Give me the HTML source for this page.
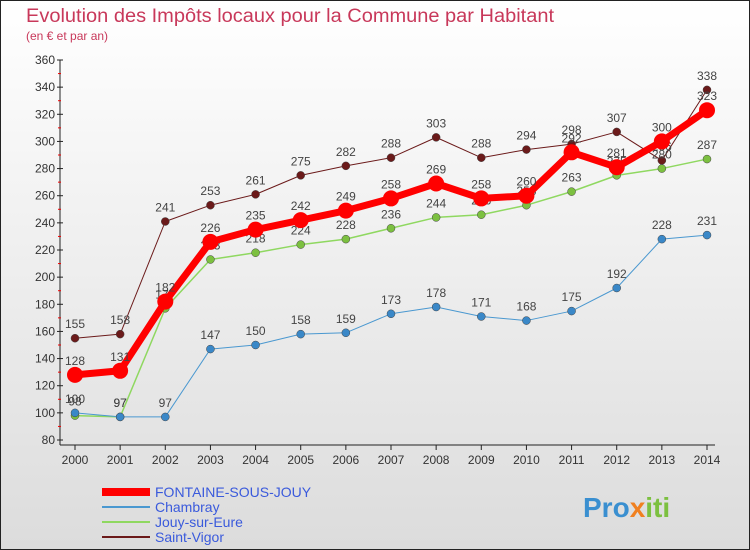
<!DOCTYPE html>
<html><head><meta charset="utf-8"><style>
body{margin:0;width:750px;height:550px;overflow:hidden;font-family:"Liberation Sans",sans-serif}
#c{position:absolute;left:0;top:0}
</style></head><body>
<svg id="c" width="750" height="550">
<defs><linearGradient id="bg" x1="0" y1="0" x2="0" y2="1"><stop offset="0" stop-color="#ffffff"/><stop offset="1" stop-color="#dcdcdc"/></linearGradient></defs>
<rect x="0.5" y="0.5" width="749" height="549" fill="url(#bg)" stroke="#222"/>
<text x="26" y="22" font-size="19" fill="#c8385a" textLength="528" lengthAdjust="spacingAndGlyphs">Evolution des Impôts locaux pour la Commune par Habitant</text>
<text x="26" y="40" font-size="12" fill="#c8385a">(en € et par an)</text>
<g id="axes"></g><g id="series"></g><g id="legend"></g>
<text x="583" y="517" font-size="28" font-weight="bold" fill="#3a8fd0">Pro<tspan fill="#f08020">x</tspan><tspan fill="#7cc040">iti</tspan></text>
</svg>
<script>
const years=[2000,2001,2002,2003,2004,2005,2006,2007,2008,2009,2010,2011,2012,2013,2014];
const yTicks=[80,100,120,140,160,180,200,220,240,260,280,300,320,340,360];
const fontaine=[128,131,182,226,235,242,249,258,269,258,260,292,281,300,323];
const chambray=[100,97,97,147,150,158,159,173,178,171,168,175,192,228,231];
const jouy=[98,97,177,213,218,224,228,236,244,246,253,263,275,280,287];
const vigor=[155,158,241,253,261,275,282,288,303,288,294,298,307,286,338];
const NS="http://www.w3.org/2000/svg";
const X=i=>75+i*(707-75)/14;
const Y=v=>440-(v-80)*380/280;
function mk(t,a,p){const e=document.createElementNS(NS,t);for(const k in a)e.setAttribute(k,a[k]);p.appendChild(e);return e;}
const ax=document.getElementById('axes');
const yl=mk('line',{x1:60,y1:60,x2:60,y2:445,stroke:'#222','stroke-width':1},ax);


yTicks.forEach(v=>{
  mk('line',{x1:57,y1:Y(v),x2:63,y2:Y(v),stroke:'#222'},ax);
  if(v<360) mk('line',{x1:58,y1:Y(v+10),x2:61,y2:Y(v+10),stroke:'#e00'},ax);
  const t=mk('text',{x:55,y:Y(v)+4,'font-size':12,fill:'#333','text-anchor':'end'},ax);
  t.textContent=v;
  
  
});
const xl=mk('line',{x1:60,y1:445,x2:715,y2:445,stroke:'#222'},ax);


years.forEach((y,i)=>{
  mk('line',{x1:X(i),y1:445,x2:X(i),y2:450,stroke:'#222'},ax);
  const t=mk('text',{x:X(i),y:464,'font-size':12,fill:'#333','text-anchor':'middle'},ax);
  t.textContent=y;
  
  
});
const sg=document.getElementById('series');
const series=[
 {n:'Saint-Vigor',d:vigor,c:'#6b1a1a',w:1,r:4,f:'#6b1a1a',key:'saint-vigor'},
 {n:'Jouy-sur-Eure',d:jouy,c:'#8fd860',w:1.5,r:4,f:'#7cc040',key:'jouy-sur-eure'},
 {n:'Chambray',d:chambray,c:'#4a98d0',w:1,r:4,f:'#3a88c8',key:'chambray'},
 {n:'FONTAINE-SOUS-JOUY',d:fontaine,c:'#ff0000',w:7,r:8,f:'#ff0000',key:'fontaine-sous-jouy'}
];
series.forEach(s=>{
  const g=mk('g',{},sg);
  
  
  const pl=mk('polyline',{points:s.d.map((v,i)=>X(i)+','+Y(v)).join(' '),fill:'none',stroke:s.c,'stroke-width':s.w,'stroke-linejoin':'round'},g);
  
  
  s.d.forEach((v,i)=>{
    const c=mk('circle',{cx:X(i),cy:Y(v),r:s.r,fill:s.f,stroke:s.w>2?'none':'#444','stroke-width':0.5},g);
    
    
    const t=mk('text',{x:X(i),y:Y(v)-10,'font-size':12,fill:'#444','text-anchor':'middle'},g);
    t.textContent=v;
    
    
  });
});
const lg=document.getElementById('legend');
const leg=[
 {n:'FONTAINE-SOUS-JOUY',c:'#ff0000',w:8,key:'fontaine-sous-jouy'},
 {n:'Chambray',c:'#4a98d0',w:2,key:'chambray'},
 {n:'Jouy-sur-Eure',c:'#8fd860',w:2,key:'jouy-sur-eure'},
 {n:'Saint-Vigor',c:'#6b1a1a',w:2,key:'saint-vigor'}
];
leg.forEach((l,i)=>{
  const y=492+i*15;
  const g=mk('g',{},lg);
  
  
  mk('line',{x1:102,y1:y,x2:150,y2:y,stroke:l.c,'stroke-width':l.w},g);
  const t=mk('text',{x:155,y:y+5,'font-size':14,fill:'#3a5adc'},g);
  t.textContent=l.n;
});
</script>
</body></html>
